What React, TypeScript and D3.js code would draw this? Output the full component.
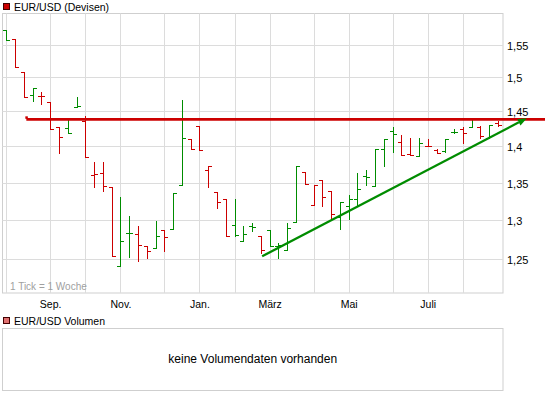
import React from "react";
import * as d3 from "d3";

// Weekly bars (week starting Monday)
const weeks = [
  "2008-07-28","2008-08-04","2008-08-11","2008-08-18","2008-08-25",
  "2008-09-01","2008-09-08","2008-09-15","2008-09-22","2008-09-29",
  "2008-10-06","2008-10-13","2008-10-20","2008-10-27","2008-11-03",
  "2008-11-10","2008-11-17","2008-11-24","2008-12-01","2008-12-08",
  "2008-12-15","2008-12-22","2008-12-29","2009-01-05","2009-01-12",
  "2009-01-19","2009-01-26","2009-02-02","2009-02-09","2009-02-16",
  "2009-02-23","2009-03-02","2009-03-09","2009-03-16","2009-03-23",
  "2009-03-30","2009-04-06","2009-04-13","2009-04-20","2009-04-27",
  "2009-05-04","2009-05-11","2009-05-18","2009-05-25","2009-06-01",
  "2009-06-08","2009-06-15","2009-06-22","2009-06-29","2009-07-06",
  "2009-07-13","2009-07-20","2009-07-27","2009-08-03","2009-08-10",
  "2009-08-17","2009-08-24",
];

const opens = [
  1.5728,1.5583,1.5077,1.4738,1.4728,
  1.4640,1.4270,1.4256,1.4558,1.4364,
  1.3605,1.3628,1.3433,1.2416,1.2832,
  1.2823,1.2673,1.2644,1.2877,1.2881,
  1.3466,1.4100,1.4288,1.3673,1.3372,
  1.3283,1.2942,1.2727,1.2929,1.2791,
  1.2877,1.2664,1.2622,1.2971,1.3642,
  1.3203,1.3537,1.3380,1.3045,1.3190,
  1.3283,1.3591,1.3456,1.3959,1.4221,
  1.4066,1.3890,1.3866,1.4006,1.3949,
  1.3936,1.4207,1.4250,1.4270,1.4267,
  1.4114,1.4336,
];
const highs = [
  1.5728,1.5583,1.5077,1.4837,1.4787,
  1.4640,1.4270,1.4399,1.4713,1.4436,
  1.3787,1.3774,1.3433,1.3309,1.3059,
  1.2929,1.2673,1.2984,1.2877,1.3362,
  1.4665,1.4100,1.4288,1.3728,1.3372,
  1.3283,1.3283,1.2920,1.2964,1.2791,
  1.2877,1.2707,1.2964,1.3728,1.3642,
  1.3466,1.3537,1.3380,1.3233,1.3336,
  1.3628,1.3673,1.3959,1.4100,1.4270,
  1.4160,1.4114,1.4114,1.4100,1.3959,
  1.4100,1.4241,1.4270,1.4399,1.4288,
  1.4303,1.4356,
];
const lows = [
  1.5571,1.5161,1.4713,1.4655,1.4602,
  1.4246,1.3912,1.4184,1.4558,1.3856,
  1.3433,1.3380,1.2538,1.2416,1.2525,
  1.2475,1.2518,1.2644,1.2601,1.2881,
  1.3466,1.3959,1.3940,1.3433,1.3164,
  1.2798,1.2798,1.2727,1.2855,1.2580,
  1.2664,1.2518,1.2622,1.2971,1.3479,
  1.3203,1.3190,1.3006,1.2890,1.3016,
  1.3203,1.3470,1.3456,1.3719,1.3926,
  1.3880,1.3873,1.3866,1.3996,1.3904,
  1.3926,1.4184,1.4052,1.4270,1.4114,
  1.4114,1.4284,
];
const closes = [
  1.5571,1.5161,1.4713,1.4837,1.4724,
  1.4246,1.4128,1.4184,1.4577,1.3856,
  1.3619,1.3449,1.2538,1.2734,1.2832,
  1.2685,1.2609,1.2800,1.2783,1.3362,
  1.4114,1.3959,1.3940,1.3728,1.3239,
  1.2798,1.2803,1.2826,1.2907,1.2622,
  1.2664,1.2677,1.2899,1.3728,1.3479,
  1.3466,1.3305,1.3076,1.3233,1.3283,
  1.3416,1.3574,1.3959,1.4100,1.4175,
  1.3880,1.3873,1.4048,1.4001,1.3912,
  1.4100,1.4207,1.4184,1.4382,1.4146,
  1.4303,1.4296,
];

const yTicks = [1.25, 1.3, 1.35, 1.4, 1.45, 1.5, 1.55];
const labelMonths = ["2008-09-01", "2008-11-01", "2009-01-01", "2009-03-01", "2009-05-01", "2009-07-01"];
const labelTexts = ["Sep.", "Nov.", "Jan.", "März", "Mai", "Juli"];

// Resistance (horizontal) and support trend line
const resistanceValue = 1.4382;
const resistanceStart = "2008-08-13";
const trendStart = { date: "2009-02-17", value: 1.2538 };
const trendEnd = { date: "2009-09-16", value: 1.4399 };

const parse = d3.timeParse("%Y-%m-%d");

const W = 545;
const H = 395;
const plot = { left: 2.5, right: 503, top: 13.5, bottom: 293 };
const UP = "#008c00";
const DOWN = "#cc0000";
const GRID = "#dcdcdc";
const FONT = "'Liberation Sans', Arial, sans-serif";

export default function App() {
  const x = d3
    .scaleTime()
    .domain([new Date(2008, 6, 25), new Date(2009, 7, 28)])
    .range([plot.left, plot.right]);
  const y = d3.scaleLog().domain([1.2086, 1.599]).range([plot.bottom, plot.top]);

  const bars = weeks.map((w, i) => ({
    date: parse(w)!,
    o: opens[i],
    h: highs[i],
    l: lows[i],
    c: closes[i],
    up: i === 0 ? true : closes[i] >= closes[i - 1],
  }));

  const months = d3.timeMonth.range(new Date(2008, 7, 1), new Date(2009, 8, 1));
  const gridDates = months.map((m) => d3.timeMonday.floor(m));
  const crisp = (v: number) => Math.round(v) + 0.5;

  const rY = y(resistanceValue);
  const rX = x(parse(resistanceStart)!);

  const tx1 = x(parse(trendStart.date)!);
  const ty1 = y(trendStart.value);
  const tx2 = x(parse(trendEnd.date)!);
  const ty2 = y(trendEnd.value);
  const ang = Math.atan2(ty2 - ty1, tx2 - tx1);
  const aL = 9;
  const aW = 3.5;
  const bx = tx2 - aL * Math.cos(ang);
  const by = ty2 - aL * Math.sin(ang);
  const arrow = [
    [tx2, ty2],
    [bx + aW * Math.sin(ang), by - aW * Math.cos(ang)],
    [bx - aW * Math.sin(ang), by + aW * Math.cos(ang)],
  ]
    .map((p) => p.join(","))
    .join(" ");

  const line = d3.line();

  return (
    <svg
      width={W}
      height={H}
      style={{ position: "absolute", left: 0, top: 0, background: "#fff" }}
      fontFamily={FONT}
    >
      <rect x={0} y={0} width={W} height={H} fill="#fff" />
      {/* header */}
      <rect x={3.5} y={3.5} width={6} height={6} fill={DOWN} stroke="#400" strokeWidth={1} />
      <text x={14} y={10.5} fontSize={10.5} fill="#000">EUR/USD (Devisen)</text>

      {/* plot frame & grid */}
      <rect x={plot.left} y={plot.top} width={plot.right - plot.left} height={plot.bottom - plot.top} fill="#fff" stroke="#cfcfcf" />
      {yTicks.map((t) => (
        <g key={t}>
          <line x1={plot.left} x2={plot.right} y1={crisp(y(t))} y2={crisp(y(t))} stroke={GRID} />
          <text x={507} y={y(t) + 5} fontSize={11} fill="#000">
            {String(t).replace(".", ",")}
          </text>
        </g>
      ))}
      {gridDates.map((d) => (
        <line key={+d} x1={crisp(x(d))} x2={crisp(x(d))} y1={plot.top} y2={plot.bottom} stroke={GRID} />
      ))}
      {labelMonths.map((m, i) => (
        <text
          key={m}
          x={x(d3.timeMonday.floor(parse(m)!)) + 0.5}
          y={308}
          fontSize={10.5}
          textAnchor="middle"
          fill="#000"
        >
          {labelTexts[i]}
        </text>
      ))}
      <text x={10} y={290} fontSize={10} fill="#a0a0a0">1 Tick = 1 Woche</text>

      {/* OHLC bars */}
      <g shapeRendering="crispEdges">
        {bars.map((b) => {
          const cx = crisp(x(b.date));
          const col = b.up ? UP : DOWN;
          const yo = Math.round(y(b.o)) + 0.5;
          const yc = Math.round(y(b.c)) + 0.5;
          return (
            <g key={+b.date} stroke={col} strokeWidth={1}>
              <line x1={cx} x2={cx} y1={Math.round(y(b.h))} y2={Math.round(y(b.l)) + 1} />
              <line x1={cx - 3.5} x2={cx} y1={yo} y2={yo} />
              <line x1={cx} x2={cx + 3.5} y1={yc} y2={yc} />
            </g>
          );
        })}
      </g>

      {/* resistance line */}
      <line x1={rX} x2={W} y1={rY} y2={rY} stroke={DOWN} strokeWidth={2.6} />
      <rect x={rX - 1} y={rY - 3} width={2.5} height={2.5} fill={DOWN} />

      {/* trend line */}
      <path d={line([[tx1, ty1], [bx, by]]) || ""} stroke={UP} strokeWidth={2.2} fill="none" />
      <polygon points={arrow} fill={UP} />

      {/* volume panel */}
      <rect x={3.5} y={317.5} width={6} height={6} fill="#e07070" stroke="#400" strokeWidth={1} />
      <text x={14} y={325} fontSize={10.5} fill="#000">EUR/USD Volumen</text>
      <rect x={plot.left} y={328.5} width={plot.right - plot.left} height={62} fill="#fff" stroke="#cfcfcf" />
      <text x={(plot.left + plot.right) / 2} y={363} fontSize={12} textAnchor="middle" fill="#000">
        keine Volumendaten vorhanden
      </text>
    </svg>
  );
}
